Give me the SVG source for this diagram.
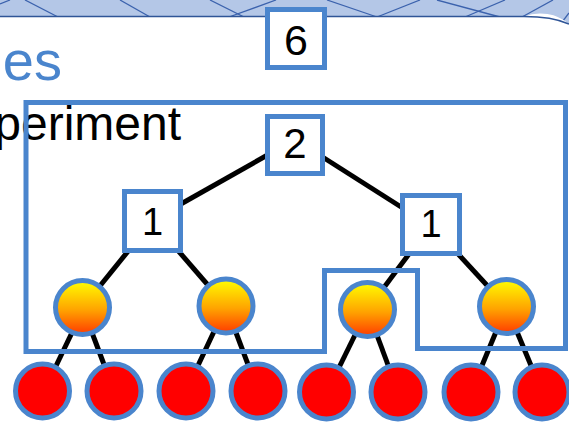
<svg xmlns="http://www.w3.org/2000/svg" width="569" height="423" viewBox="0 0 569 423">
<defs>
<linearGradient id="warm" x1="0" y1="0" x2="0" y2="1">
<stop offset="0" stop-color="#ffff00"/>
<stop offset="0.55" stop-color="#ffa200"/>
<stop offset="1" stop-color="#ff3a00"/>
</linearGradient>
<clipPath id="bandClip"><rect x="0" y="0" width="569" height="60"/></clipPath>
</defs>
<style>
.hatch{stroke:#3b62ad;stroke-width:1.3;fill:none}
.box{fill:#ffffff;stroke:#4a85cd;stroke-width:5}
.warm{fill:url(#warm);stroke:#4a85cd;stroke-width:5}
.leaf{fill:#ff0000;stroke:#4a85cd;stroke-width:5}
.edge{stroke:#000000;stroke-width:5;fill:none}
.num{font-family:"Liberation Sans",Arial,sans-serif;fill:#000000;text-anchor:middle}
</style>
<!-- background band -->
<rect x="0" y="0" width="569" height="60" fill="#b4c7e7"/>
<g clip-path="url(#bandClip)">
<line class="hatch" x1="25" y1="0" x2="58" y2="17"/>
<line class="hatch" x1="120" y1="0" x2="150" y2="17"/>
<line class="hatch" x1="210" y1="0" x2="244" y2="17"/>
<line class="hatch" x1="327" y1="0" x2="377" y2="17"/>
<line class="hatch" x1="437" y1="0" x2="500" y2="17"/>
<line class="hatch" x1="0" y1="4" x2="10" y2="0"/>
<line class="hatch" x1="229" y1="17" x2="276" y2="0"/>
<line class="hatch" x1="377" y1="17" x2="420" y2="0"/>
<line class="hatch" x1="465" y1="17" x2="505" y2="0"/>
<line class="hatch" x1="522" y1="17" x2="553" y2="0"/>
<line class="hatch" x1="553" y1="34" x2="569" y2="13"/>
</g>
<!-- white panel -->
<path d="M0,16.5 H524 A45,45 0 0 1 569,24 V423 H0 Z" fill="#ffffff"/>
<path d="M0,16.5 H524 Q552,16.5 569,24" fill="none" stroke="#2f5597" stroke-width="1.5"/>
<!-- texts -->
<text x="62" y="80" font-family="Liberation Sans, Arial, sans-serif" font-size="56" fill="#4a85cd" text-anchor="end">es</text>
<text x="181" y="140" font-family="Liberation Sans, Arial, sans-serif" font-size="48" fill="#000000" text-anchor="end">periment</text>
<!-- connectors -->
<g id="connectors">
<line class="edge" x1="295" y1="139.5" x2="152.5" y2="220"/>
<line class="edge" x1="295" y1="139.5" x2="431" y2="226"/>
<line class="edge" x1="152.5" y1="221" x2="82.5" y2="307.5"/>
<line class="edge" x1="152.5" y1="221" x2="226" y2="306"/>
<line class="edge" x1="431" y1="224.5" x2="367.5" y2="309.5"/>
<line class="edge" x1="431" y1="224.5" x2="506.5" y2="306.5"/>
<line class="edge" x1="84" y1="307.5" x2="44" y2="391"/>
<line class="edge" x1="82.5" y1="307.5" x2="114" y2="391"/>
<line class="edge" x1="226" y1="306" x2="186" y2="391"/>
<line class="edge" x1="226" y1="306" x2="258" y2="391"/>
<line class="edge" x1="367.5" y1="309.5" x2="327" y2="392"/>
<line class="edge" x1="367.5" y1="309.5" x2="398" y2="392"/>
<line class="edge" x1="506.5" y1="306.5" x2="471" y2="392"/>
<line class="edge" x1="506.5" y1="306.5" x2="542" y2="392"/>
</g>
<!-- grouping outline -->
<g id="outline">
<path d="M26,102.5 H565.5 V348.5 H417.5 V270.5 H324.5 V351.5 H26 Z" fill="none" stroke="#4a85cd" stroke-width="5"/>
</g>
<!-- middle nodes -->
<g id="m1"><circle class="warm" cx="82.5" cy="307.5" r="27"/></g>
<g id="m2"><circle class="warm" cx="226" cy="306" r="27"/></g>
<g id="m3"><circle class="warm" cx="367.5" cy="309.5" r="27"/></g>
<g id="m4"><circle class="warm" cx="506.5" cy="306.5" r="27"/></g>
<!-- leaves -->
<g id="l1"><circle class="leaf" cx="42.5" cy="391" r="27"/></g>
<g id="l2"><circle class="leaf" cx="114" cy="391" r="27"/></g>
<g id="l3"><circle class="leaf" cx="186" cy="391" r="27"/></g>
<g id="l4"><circle class="leaf" cx="258" cy="391" r="27"/></g>
<g id="l5"><circle class="leaf" cx="326.5" cy="392" r="27"/></g>
<g id="l6"><circle class="leaf" cx="398" cy="392" r="27"/></g>
<g id="l7"><circle class="leaf" cx="471" cy="392" r="27"/></g>
<g id="l8"><circle class="leaf" cx="542" cy="392" r="27"/></g>
<!-- boxes -->
<g id="b6"><rect class="box" x="267.5" y="9.5" width="57" height="58"/><text class="num" x="296" y="54.5" font-size="43">6</text></g>
<g id="b2"><rect class="box" x="267.5" y="116.5" width="55" height="57"/><text class="num" x="295" y="158" font-size="42">2</text></g>
<g id="b1a"><rect class="box" x="124.5" y="191.5" width="56" height="59"/><text class="num" x="152.5" y="234.5" font-size="38">1</text></g>
<g id="b1b"><rect class="box" x="402.5" y="195.5" width="57" height="58"/><text class="num" x="431" y="236.5" font-size="38">1</text></g>
</svg>
